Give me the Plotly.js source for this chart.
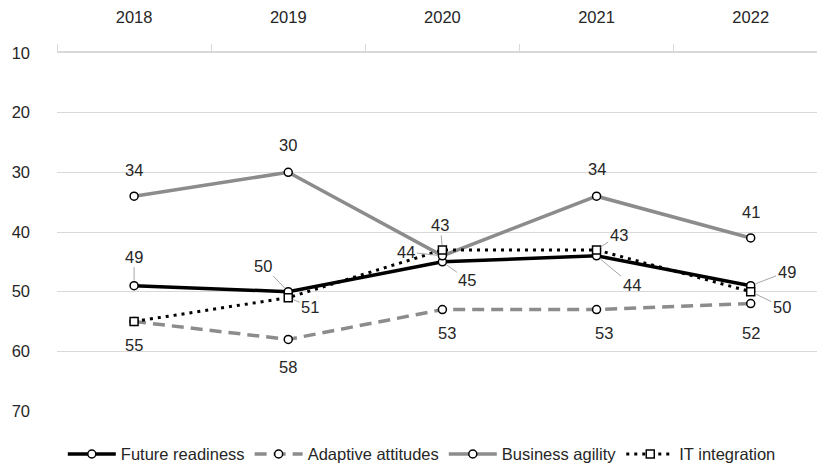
<!DOCTYPE html>
<html>
<head>
<meta charset="utf-8">
<script src="https://cdn.plot.ly/plotly-3.0.1.min.js"></script>
<style>html,body{margin:0;padding:0;background:#fff;}#chart{width:817px;height:467px;}</style>
</head>
<body>
<div id="chart"></div>
<script>
const years = ["2018", "2019", "2020", "2021", "2022"];
const futureReadiness = [49, 50, 45, 44, 49];
const adaptiveAttitudes = [55, 58, 53, 53, 52];
const businessAgility = [34, 30, 44, 34, 41];
const itIntegration = [55, 51, 43, 43, 50];
const yTicks = [10, 20, 30, 40, 50, 60, 70];

// label placement (pixel offsets from point, leader line flag, shown flag)
const labelStyle = {
  fr: [[0,-29,true,true],[-25,-26,true,true],[25,18,true,true],[35,29,true,true],[36,-14,true,true]],
  aa: [[0,23,false,true],[0,28,false,true],[5,23,false,true],[7,23,false,true],[0,29,false,true]],
  ba: [[0,-26,false,true],[0,-27,false,true],[-36,-4,true,true],[0,-27,false,true],[0,-26,false,true]],
  it: [[0,23,false,false],[22,9,true,true],[-2,-25,true,true],[22,-15,true,true],[31,15,true,true]]
};

const FONT = "Liberation Sans, Arial, sans-serif";
const TXT = "#262626";
const FS = 16.5;

function mk(name, vals, color, dash, symbol, width) {
  return {
    x: years, y: vals, name: name, type: "scatter", mode: "lines+markers",
    line: {color: color, width: width, dash: dash},
    marker: {symbol: symbol, size: 8, color: "#ffffff", line: {color: "#000000", width: 1.5}}
  };
}

const traces = [
  mk("Future readiness", futureReadiness, "#000000", "solid", "circle", 3.5),
  mk("Adaptive attitudes", adaptiveAttitudes, "#8c8c8c", "12px,7px", "circle", 3.5),
  mk("Business agility", businessAgility, "#8c8c8c", "solid", "circle", 3.5),
  mk("IT integration", itIntegration, "#000000", "3px,5px", "square", 3)
];

const annotations = [];
function addLabels(vals, style) {
  vals.forEach((v, i) => {
    const s = style[i];
    if (!s[3]) return;
    const base = {x: i, y: v, xref: "x", yref: "y", text: String(v),
      font: {family: FONT, size: FS, color: TXT}};
    if (s[2]) {
      annotations.push(Object.assign(base, {showarrow: true, ax: s[0], ay: s[1],
        arrowhead: 0, arrowwidth: 1, arrowcolor: "#a6a6a6", standoff: 5}));
    } else {
      annotations.push(Object.assign(base, {showarrow: false, xshift: s[0], yshift: -s[1]}));
    }
  });
}
addLabels(futureReadiness, labelStyle.fr);
addLabels(adaptiveAttitudes, labelStyle.aa);
addLabels(businessAgility, labelStyle.ba);
addLabels(itIntegration, labelStyle.it);

const layout = {
  width: 817, height: 467,
  margin: {l: 57, r: 0, t: 53, b: 56, autoexpand: false},
  paper_bgcolor: "#ffffff", plot_bgcolor: "#ffffff",
  font: {family: FONT, size: FS, color: TXT},
  showlegend: true,
  legend: {orientation: "h", x: 0.48, xanchor: "center", y: -0.072, yanchor: "top",
    font: {family: FONT, size: FS, color: TXT}, traceorder: "normal", itemwidth: 48},
  xaxis: {type: "category", side: "top", range: [-0.5, 4.43], showgrid: false, zeroline: false,
    showline: true, linecolor: "#d9d9d9", linewidth: 2, ticks: "outside", tickson: "boundaries",
    ticklen: 7, tickcolor: "#d9d9d9", tickwidth: 1, ticklabelstandoff: 21, automargin: false,
    tickfont: {family: FONT, size: FS, color: TXT}, fixedrange: true},
  yaxis: {range: [70, 10], tickvals: yTicks, showgrid: true, gridcolor: "#d9d9d9", gridwidth: 1,
    zeroline: false, showline: false, ticks: "", ticklabelstandoff: 26, automargin: false,
    tickfont: {family: FONT, size: FS, color: TXT}, fixedrange: true},
  annotations: annotations
};

Plotly.newPlot("chart", traces, layout, {displayModeBar: false, staticPlot: true});
</script>
</body>
</html>
